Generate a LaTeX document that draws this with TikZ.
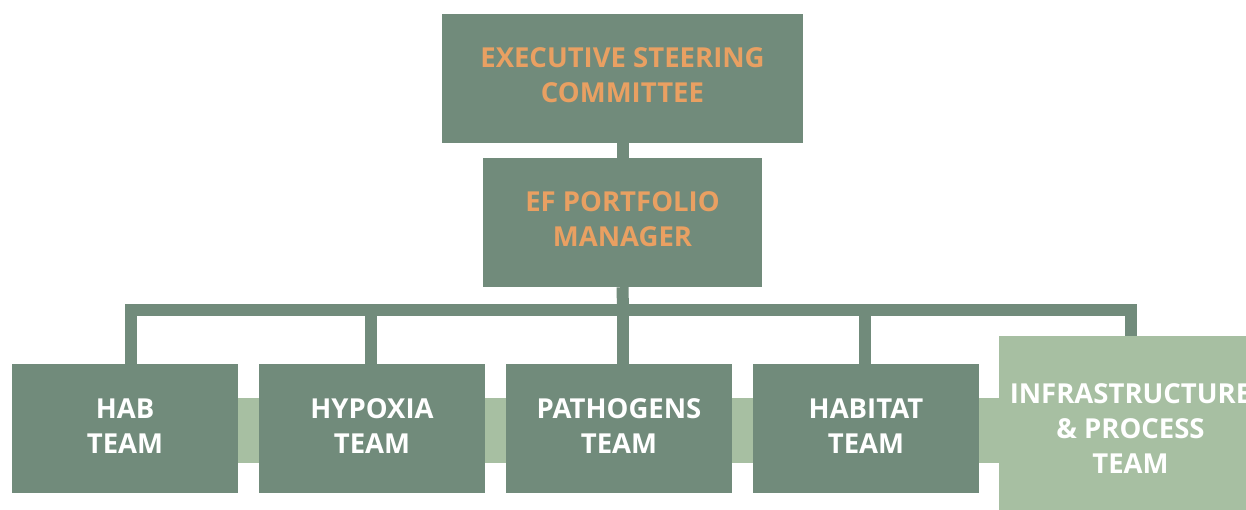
\documentclass[tikz,border=0pt]{standalone}
\usepackage{fontspec}
\setmainfont{Open Sans}
\usetikzlibrary{backgrounds}
\definecolor{dkgreen}{HTML}{718B7B}
\definecolor{ltgreen}{HTML}{A7BFA2}
\definecolor{orangetxt}{HTML}{E9A062}
\tikzset{
  box/.style={fill=dkgreen, draw=none, inner sep=0pt, align=center,
    font=\fontsize{27.5}{35}\selectfont\bfseries},
  topbox/.style={box, text=orangetxt, text depth=6pt},
  teambox/.style={box, text=white, minimum width=226pt, minimum height=129pt, text depth=4pt},
  conn/.style={draw=dkgreen, line width=12pt, line join=miter},
}
\begin{document}
\begin{tikzpicture}[x=1pt,y=-1pt]
\useasboundingbox (0,0) rectangle (1246,510);
\clip (0,0) rectangle (1246,510);
\node[topbox, minimum width=361pt, minimum height=129pt] (exec) at (622.5,78.5) {EXECUTIVE STEERING\\COMMITTEE};
\node[topbox, minimum width=279pt, minimum height=129pt] (ef) at (622.5,222.5) {EF PORTFOLIO\\MANAGER};
\node[teambox] (hab) at (125,428.5) {HAB\\TEAM};
\node[teambox] (hyp) at (372,428.5) {HYPOXIA\\TEAM};
\node[teambox] (path) at (619,428.5) {PATHOGENS\\TEAM};
\node[teambox] (habitat) at (866,428.5) {HABITAT\\TEAM};
\node[box, fill=ltgreen, text=white, minimum width=263pt, minimum height=186pt, text depth=0pt] (infra) at (1130.5,429) {INFRASTRUCTURE\\\&~PROCESS\\TEAM};
\coordinate (bar) at (623,310);
\begin{scope}[on background layer]
  \fill[ltgreen] (hab.east |- 0,398) rectangle (infra.west |- 0,463);
  \draw[conn] (exec.south) -- (ef.north);
  \draw[conn] (ef.south) -- (bar);
  \draw[conn] ([xshift=6pt]hab.north) |- (bar) -| (infra.north);
  \draw[conn] ([xshift=-1.5pt]hyp.north) -- ([xshift=-1.5pt]hyp.north |- bar);
  \draw[conn] ([xshift=4pt]path.north) -- ([xshift=4pt]path.north |- bar);
  \draw[conn] ([xshift=-1.5pt]habitat.north) -- ([xshift=-1.5pt]habitat.north |- bar);
\end{scope}
\end{tikzpicture}
\end{document}
